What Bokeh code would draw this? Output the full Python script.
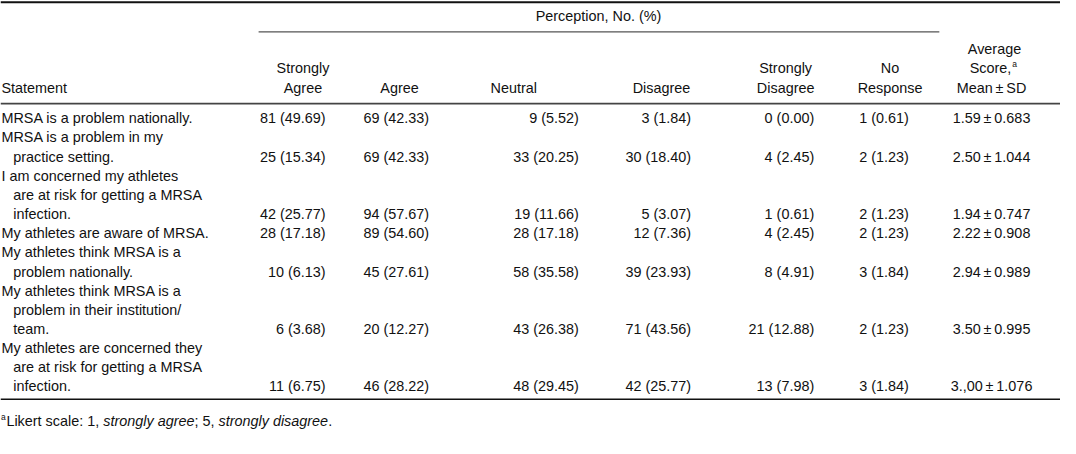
from bokeh.plotting import figure
from bokeh.models import Range1d
from bokeh.core.properties import value
from bokeh.embed import file_html
from bokeh.resources import INLINE

# ---------------- data ----------------
statements = [
    ["MRSA is a problem nationally."],
    ["MRSA is a problem in my", "practice setting."],
    ["I am concerned my athletes", "are at risk for getting a MRSA", "infection."],
    ["My athletes are aware of MRSA."],
    ["My athletes think MRSA is a", "problem nationally."],
    ["My athletes think MRSA is a", "problem in their institution/", "team."],
    ["My athletes are concerned they", "are at risk for getting a MRSA", "infection."],
]
category_headers = [["Strongly", "Agree"], ["Agree"], ["Neutral"], ["Disagree"],
                    ["Strongly", "Disagree"], ["No", "Response"]]
strongly_agree_n = [81, 25, 42, 28, 10, 6, 11]
strongly_agree_pct = [49.69, 15.34, 25.77, 17.18, 6.13, 3.68, 6.75]
agree_n = [69, 69, 94, 89, 45, 20, 46]
agree_pct = [42.33, 42.33, 57.67, 54.60, 27.61, 12.27, 28.22]
neutral_n = [9, 33, 19, 28, 58, 43, 48]
neutral_pct = [5.52, 20.25, 11.66, 17.18, 35.58, 26.38, 29.45]
disagree_n = [3, 30, 5, 12, 39, 71, 42]
disagree_pct = [1.84, 18.40, 3.07, 7.36, 23.93, 43.56, 25.77]
strongly_disagree_n = [0, 4, 1, 4, 8, 21, 13]
strongly_disagree_pct = [0.00, 2.45, 0.61, 2.45, 4.91, 12.88, 7.98]
no_response_n = [1, 2, 2, 2, 3, 2, 3]
no_response_pct = [0.61, 1.23, 1.23, 1.23, 1.84, 1.23, 1.84]
mean_score = ["1.59", "2.50", "1.94", "2.22", "2.94", "3.50", "3.,00"]
sd_score = ["0.683", "1.044", "0.747", "0.908", "0.989", "0.995", "1.076"]

# ---------------- layout ----------------
FONT = value("Liberation Sans")
FS = 14.4
FSs = f"{FS}px"
COLOR = "#111111"

p = figure(width=1060, height=438, output_backend="svg", toolbar_location=None,
           x_range=Range1d(0, 1076), y_range=Range1d(445, -1),
           min_border=0, outline_line_color=None)
p.axis.visible = False
p.grid.visible = False
p.background_fill_color = "white"
p.border_fill_color = "white"


def txt(x, y, s, align="left", size=FSs, style="normal"):
    p.text(x=[x], y=[y], text=[s], text_align=align, text_baseline="middle",
           text_font=FONT, text_font_size=size, text_color=COLOR,
           text_font_style=style)


# rules
p.segment(x0=[0], y0=[0.8], x1=[1076], y1=[0.8], line_color="#111111", line_width=2)
p.segment(x0=[262], y0=[31], x1=[953], y1=[31], line_color="#555555", line_width=1.2)
p.segment(x0=[0], y0=[104], x1=[1076], y1=[104], line_color="#444444", line_width=1.6)
p.segment(x0=[0], y0=[405], x1=[1076], y1=[405], line_color="#111111", line_width=1.6)

# header
txt(607, 15, "Perception, No. (%)", "center")
txt(1, 88, "Statement")
head_centers = [307, 405, 521, 671, 797, 903]
for cx, lines in zip(head_centers, category_headers):
    ys = [88] if len(lines) == 1 else [68, 88]
    for yy, s in zip(ys, lines):
        txt(cx, yy, s, "center")
txt(1009, 48, "Average", "center")
txt(1005, 68, "Score,", "center")
txt(1027, 64, "a", "left", size="8.5px")
txt(1006, 88, "Mean\u2009\u00b1\u2009SD", "center")

# body
LINE0, STEP = 119, 19.5
right_edges = [330, 435, 587, 701, 826, 922]
series = [(strongly_agree_n, strongly_agree_pct), (agree_n, agree_pct),
          (neutral_n, neutral_pct), (disagree_n, disagree_pct),
          (strongly_disagree_n, strongly_disagree_pct), (no_response_n, no_response_pct)]
k = 0
for i, lines in enumerate(statements):
    for j, s in enumerate(lines):
        txt(1 if j == 0 else 13, LINE0 + STEP * (k + j), s)
    yv = LINE0 + STEP * (k + len(lines) - 1)
    for xr, (ns, ps) in zip(right_edges, series):
        txt(xr, yv, f"{ns[i]} ({ps[i]:.2f})", "right")
    txt(1006, yv, f"{mean_score[i]}\u2009\u00b1\u2009{sd_score[i]}", "center")
    k += len(lines)

# footnote with mixed italics
W = {' ': 278, ',': 278, '.': 278, ':': 278, ';': 278, '1': 556, '5': 556,
     'L': 556, 'a': 556, 'c': 500, 'd': 556, 'e': 556, 'g': 556, 'i': 222,
     'k': 500, 'l': 222, 'n': 556, 'o': 556, 'r': 333, 's': 500, 't': 278, 'y': 500}


def width(s):
    return sum(W.get(c, 556) for c in s) / 1000 * FS * 1076 / 1060


txt(0.5, 423, "a", "left", size="8.5px")
x = 6
for s, st in [("Likert scale: 1, ", "normal"), ("strongly agree", "italic"),
              ("; 5, ", "normal"), ("strongly disagree", "italic"), (".", "normal")]:
    txt(x, 427, s, "left", style=st)
    x += width(s)

open("out.html", "w").write(file_html(p, INLINE))
